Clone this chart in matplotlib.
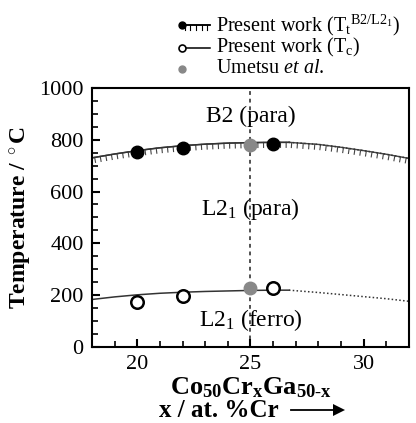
import numpy as np
import matplotlib
matplotlib.use('Agg')
import matplotlib.pyplot as plt
import matplotlib.patheffects as pe
from matplotlib.lines import Line2D

plt.rcParams['font.family'] = ['Liberation Serif', 'DejaVu Serif']
plt.rcParams['mathtext.fontset'] = 'custom'
plt.rcParams['mathtext.rm'] = 'Liberation Serif'
plt.rcParams['mathtext.it'] = 'Liberation Serif:italic'
plt.rcParams['mathtext.bf'] = 'Liberation Serif:bold'

# measured points
x_tt = [20, 22, 26]
y_tt = [751, 770, 785]
x_tc = [20, 22, 26]
y_tc = [172, 195, 226]
x_ume = [25, 25]
y_ume = [778, 226]

# phase boundaries
x_b2_solid = [18, 19, 20, 21, 22, 23, 24, 25, 26, 26.7]
y_b2_solid = [730, 745, 758, 769, 777, 783, 787, 789, 790, 790]
x_b2_dot = [26.7, 28, 29, 30, 31, 32]
y_b2_dot = [790, 782, 771, 758, 744, 728]
x_tc_solid = [18, 19, 20, 21, 22, 23, 24, 25, 26, 26.7]
y_tc_solid = [183, 193, 201, 207, 211, 214, 216, 218, 219, 219]
x_tc_dot = [26.7, 28, 29, 30, 31, 32]
y_tc_dot = [219, 210, 202, 194, 186, 176]

fig = plt.figure(figsize=(4.16, 4.23), dpi=100)
ax = fig.add_axes([0.221, 0.180, 0.762, 0.612])

# ticks hang below the line (right side of a left-to-right path)
ticks_only = [pe.withTickedStroke(angle=-90, spacing=4, length=0.9, linewidth=0.8)]
for xs, ys in [(x_b2_solid, y_b2_solid), (x_b2_dot, y_b2_dot)]:
    ax.plot(xs, ys, color='#444444', lw=1.0, path_effects=ticks_only, zorder=2)
ax.plot(x_b2_solid, y_b2_solid, color='#333333', lw=1.1, zorder=2)
ax.plot(x_b2_dot, y_b2_dot, color='#333333', lw=1.1, ls=(0, (1, 1.5)), zorder=2)
ax.plot(x_tc_solid, y_tc_solid, color='#333333', lw=1.1, zorder=2)
ax.plot(x_tc_dot, y_tc_dot, color='#333333', lw=1.1, ls=(0, (1, 1.5)), zorder=2)

ax.axvline(25, color='#222222', lw=1.1, ls=(0, (2.5, 2.5)), zorder=1)

ax.plot(x_tt, y_tt, 'o', color='black', ms=9, zorder=4)
ax.plot(x_tc, y_tc, 'o', mfc='white', mec='black', mew=1.8, ms=9, zorder=4)
ax.plot(x_ume, y_ume, 'o', color='#888888', ms=9, zorder=4)

ax.text(25, 889, 'B2 (para)', ha='center', va='center', fontsize=17)
ax.text(25, 533, 'L2$_1$ (para)', ha='center', va='center', fontsize=17)
ax.text(25, 103, 'L2$_1$ (ferro)', ha='center', va='center', fontsize=17)

ax.set_xlim(18, 32)
ax.set_ylim(0, 1000)
ax.set_xticks([20, 25, 30])
ax.set_xticks(np.arange(18, 33, 1), minor=True)
ax.set_yticks([0, 200, 400, 600, 800, 1000])
ax.set_yticks(np.arange(0, 1001, 50), minor=True)
ax.tick_params(direction='in', labelsize=16, width=1.5, length=6, pad=6)
ax.tick_params(which='minor', direction='in', width=1.2, length=4)
for s in ax.spines.values():
    s.set_linewidth(1.5)
ax.set_ylabel('Temperature / $^\\circ$C', fontsize=17, fontweight='bold', labelpad=4)

fig.text(0.603, 0.083, r'$\mathbf{Co_{50}Cr_xGa_{50\text{-}x}}$', ha='center', va='center', fontsize=19)
fig.text(0.527, 0.030, 'x / at. %Cr', ha='center', va='center', fontsize=18, fontweight='bold')
fig.add_artist(Line2D([0.70, 0.81], [0.030, 0.030], color='black', lw=1.3))
fig.add_artist(Line2D([0.815], [0.030], marker='>', color='black', ms=8, mew=0))

# legend, drawn by hand so the marker sits at the left of the handle
leg_y = [0.941, 0.887, 0.837]
fig.add_artist(Line2D([0.4375, 0.505], [leg_y[0]] * 2, color='black', lw=1.1,
                      path_effects=ticks_only + [pe.Normal()]))
fig.add_artist(Line2D([0.4375], [leg_y[0]], marker='o', color='black', ms=5))
fig.add_artist(Line2D([0.4375, 0.505], [leg_y[1]] * 2, color='black', lw=1.1))
fig.add_artist(Line2D([0.4375], [leg_y[1]], marker='o', mfc='white', mec='black', mew=1.2, ms=5))
fig.add_artist(Line2D([0.4375], [leg_y[2]], marker='o', color='#888888', ms=5))
fig.text(0.52, leg_y[0], r'Present work (T$_\mathrm{t}$$^\mathrm{B2/L2_1}$)', va='center', fontsize=14.5)
fig.text(0.52, leg_y[1], r'Present work (T$_\mathrm{c}$)', va='center', fontsize=14.5)
fig.text(0.52, leg_y[2], r'Umetsu $et$ $al$.', va='center', fontsize=14.5)

fig.savefig('out.png', dpi=100)
